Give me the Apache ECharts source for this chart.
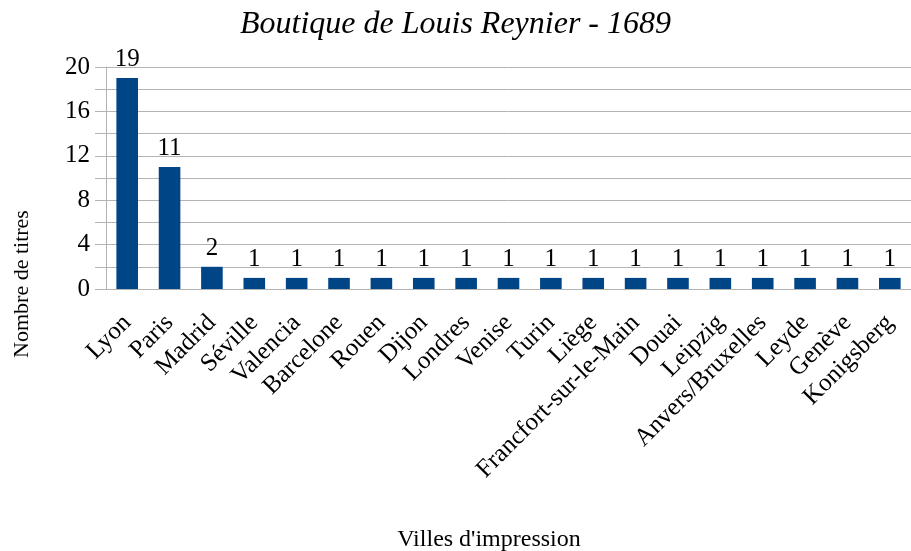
<!DOCTYPE html>
<html>
<head>
<meta charset="utf-8">
<script src="https://cdn.jsdelivr.net/npm/echarts@6/dist/echarts.min.js"></script>
<style>
  html, body { margin: 0; padding: 0; background: #fff; }
  #chart { width: 911px; height: 551px; }
</style>
</head>
<body>
<div id="chart"></div>
<script>
const villes = ['Lyon', 'Paris', 'Madrid', 'Séville', 'Valencia', 'Barcelone', 'Rouen', 'Dijon',
  'Londres', 'Venise', 'Turin', 'Liège', 'Francfort-sur-le-Main', 'Douai', 'Leipzig',
  'Anvers/Bruxelles', 'Leyde', 'Genève', 'Konigsberg'];
const titres = [19, 11, 2, 1, 1, 1, 1, 1, 1, 1, 1, 1, 1, 1, 1, 1, 1, 1, 1];
const yTicks = [0, 4, 8, 12, 16, 20];

const serif = '"Liberation Serif", "DejaVu Serif", serif';
const chart = echarts.init(document.getElementById('chart'));

chart.setOption({
  animation: false,
  title: {
    text: 'Boutique de Louis Reynier - 1689',
    left: 'center',
    top: 4,
    textStyle: { fontFamily: serif, fontStyle: 'italic', fontWeight: 'normal', fontSize: 32, color: '#000' }
  },
  grid: { left: 106, top: 67, bottom: 262, right: -8 },
  xAxis: {
    type: 'category',
    data: villes,
    axisLine: { lineStyle: { color: '#b3b3b3' } },
    axisTick: { length: 8, lineStyle: { color: '#b3b3b3' } },
    axisLabel: {
      interval: 0, rotate: 45, margin: 30,
      fontFamily: serif, fontSize: 25, color: '#000'
    }
  },
  yAxis: {
    type: 'value',
    min: 0, max: 20, interval: 2,
    axisLine: { show: true, lineStyle: { color: '#b3b3b3' } },
    axisTick: { show: true, length: 11, lineStyle: { color: '#b3b3b3' } },
    splitLine: { lineStyle: { color: '#b3b3b3' } },
    axisLabel: {
      margin: 16,
      fontFamily: serif, fontSize: 25, color: '#000',
      formatter: v => yTicks.includes(v) ? String(v) : ''
    }
  },
  graphic: [
    {
      type: 'text', x: 22, y: 284, rotation: Math.PI / 2,
      style: { text: 'Nombre de titres', fontFamily: serif, fontSize: 22, fill: '#000', align: 'center', verticalAlign: 'middle' }
    },
    {
      type: 'text', x: 489, y: 540,
      style: { text: "Villes d'impression", fontFamily: serif, fontSize: 24, fill: '#000', align: 'center', verticalAlign: 'middle' }
    }
  ],
  series: [{
    type: 'bar',
    data: titres,
    barWidth: '51%',
    itemStyle: { color: '#004586' },
    label: { show: true, position: 'top', distance: 6, fontFamily: serif, fontSize: 25, color: '#000' }
  }]
});
</script>
</body>
</html>
